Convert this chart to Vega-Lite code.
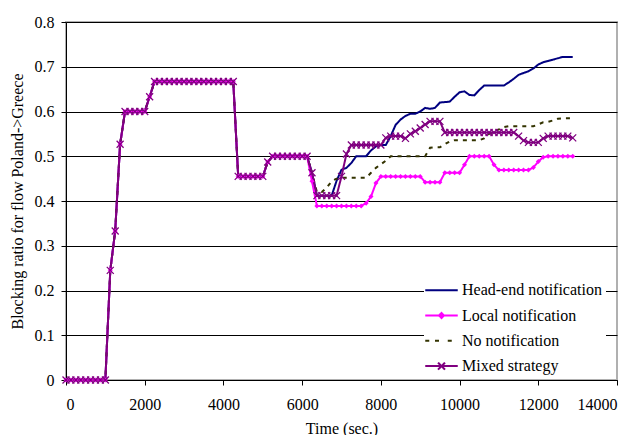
{
  "$schema": "https://vega.github.io/schema/vega-lite/v6.json",
  "width": 551,
  "height": 358,
  "autosize": {"type": "none"},
  "padding": {"left": 66, "top": 22, "right": 22, "bottom": 55},
  "background": "white",
  "config": {
    "view": {"stroke": "#b0b0b0", "strokeWidth": 2},
    "axis": {
      "labelFont": "Liberation Serif",
      "labelFontSize": 16,
      "labelColor": "black",
      "titleFont": "Liberation Serif",
      "titleFontSize": 16,
      "titleFontWeight": "normal",
      "titleColor": "black",
      "domainColor": "black",
      "domainWidth": 1,
      "tickColor": "black",
      "tickSize": 5,
      "gridColor": "black",
      "gridWidth": 1
    },
    "legend": {
      "labelFont": "Liberation Serif",
      "labelFontSize": 16,
      "labelColor": "black"
    }
  },
  "data": {
    "values": [
      {"t": 0, "head": 0, "local": 0, "none": 0, "mixed": 0},
      {"t": 125, "head": 0, "local": 0, "none": 0, "mixed": 0},
      {"t": 250, "head": 0, "local": 0, "none": 0, "mixed": 0},
      {"t": 375, "head": 0, "local": 0, "none": 0, "mixed": 0},
      {"t": 500, "head": 0, "local": 0, "none": 0, "mixed": 0},
      {"t": 625, "head": 0, "local": 0, "none": 0, "mixed": 0},
      {"t": 750, "head": 0, "local": 0, "none": 0, "mixed": 0},
      {"t": 875, "head": 0, "local": 0, "none": 0, "mixed": 0},
      {"t": 1000, "head": 0, "local": 0, "none": 0, "mixed": 0},
      {"t": 1125, "head": 0.245, "local": 0.245, "none": 0.245, "mixed": 0.245},
      {"t": 1250, "head": 0.333, "local": 0.333, "none": 0.333, "mixed": 0.333},
      {"t": 1375, "head": 0.527, "local": 0.527, "none": 0.527, "mixed": 0.527},
      {"t": 1500, "head": 0.6, "local": 0.6, "none": 0.6, "mixed": 0.6},
      {"t": 1625, "head": 0.6, "local": 0.6, "none": 0.6, "mixed": 0.6},
      {"t": 1750, "head": 0.6, "local": 0.6, "none": 0.6, "mixed": 0.6},
      {"t": 1875, "head": 0.6, "local": 0.6, "none": 0.6, "mixed": 0.6},
      {"t": 2000, "head": 0.6, "local": 0.6, "none": 0.6, "mixed": 0.6},
      {"t": 2125, "head": 0.633, "local": 0.633, "none": 0.633, "mixed": 0.633},
      {"t": 2250, "head": 0.667, "local": 0.667, "none": 0.667, "mixed": 0.667},
      {"t": 2375, "head": 0.667, "local": 0.667, "none": 0.667, "mixed": 0.667},
      {"t": 2500, "head": 0.667, "local": 0.667, "none": 0.667, "mixed": 0.667},
      {"t": 2625, "head": 0.667, "local": 0.667, "none": 0.667, "mixed": 0.667},
      {"t": 2750, "head": 0.667, "local": 0.667, "none": 0.667, "mixed": 0.667},
      {"t": 2875, "head": 0.667, "local": 0.667, "none": 0.667, "mixed": 0.667},
      {"t": 3000, "head": 0.667, "local": 0.667, "none": 0.667, "mixed": 0.667},
      {"t": 3125, "head": 0.667, "local": 0.667, "none": 0.667, "mixed": 0.667},
      {"t": 3250, "head": 0.667, "local": 0.667, "none": 0.667, "mixed": 0.667},
      {"t": 3375, "head": 0.667, "local": 0.667, "none": 0.667, "mixed": 0.667},
      {"t": 3500, "head": 0.667, "local": 0.667, "none": 0.667, "mixed": 0.667},
      {"t": 3625, "head": 0.667, "local": 0.667, "none": 0.667, "mixed": 0.667},
      {"t": 3750, "head": 0.667, "local": 0.667, "none": 0.667, "mixed": 0.667},
      {"t": 3875, "head": 0.667, "local": 0.667, "none": 0.667, "mixed": 0.667},
      {"t": 4000, "head": 0.667, "local": 0.667, "none": 0.667, "mixed": 0.667},
      {"t": 4125, "head": 0.667, "local": 0.667, "none": 0.667, "mixed": 0.667},
      {"t": 4250, "head": 0.667, "local": 0.667, "none": 0.667, "mixed": 0.667},
      {"t": 4375, "head": 0.455, "local": 0.455, "none": 0.455, "mixed": 0.455},
      {"t": 4500, "head": 0.455, "local": 0.455, "none": 0.455, "mixed": 0.455},
      {"t": 4625, "head": 0.455, "local": 0.455, "none": 0.455, "mixed": 0.455},
      {"t": 4750, "head": 0.455, "local": 0.455, "none": 0.455, "mixed": 0.455},
      {"t": 4875, "head": 0.455, "local": 0.455, "none": 0.455, "mixed": 0.455},
      {"t": 5000, "head": 0.455, "local": 0.455, "none": 0.455, "mixed": 0.455},
      {"t": 5125, "head": 0.487, "local": 0.487, "none": 0.487, "mixed": 0.487},
      {"t": 5250, "head": 0.5, "local": 0.5, "none": 0.5, "mixed": 0.5},
      {"t": 5375, "head": 0.5, "local": 0.5, "none": 0.5, "mixed": 0.5},
      {"t": 5500, "head": 0.5, "local": 0.5, "none": 0.5, "mixed": 0.5},
      {"t": 5625, "head": 0.5, "local": 0.5, "none": 0.5, "mixed": 0.5},
      {"t": 5750, "head": 0.5, "local": 0.5, "none": 0.5, "mixed": 0.5},
      {"t": 5875, "head": 0.5, "local": 0.5, "none": 0.5, "mixed": 0.5},
      {"t": 6000, "head": 0.5, "local": 0.5, "none": 0.5, "mixed": 0.5},
      {"t": 6125, "head": 0.5, "local": 0.5, "none": 0.5, "mixed": 0.5},
      {"t": 6250, "head": 0.463, "local": 0.444, "none": 0.463, "mixed": 0.463},
      {"t": 6375, "head": 0.412, "local": 0.389, "none": 0.42, "mixed": 0.412},
      {"t": 6500, "head": 0.412, "local": 0.389, "none": 0.42, "mixed": 0.412},
      {"t": 6625, "head": 0.412, "local": 0.389, "none": 0.43, "mixed": 0.412},
      {"t": 6750, "head": 0.412, "local": 0.389, "none": 0.444, "mixed": 0.412},
      {"t": 6875, "head": 0.445, "local": 0.389, "none": 0.45, "mixed": 0.412},
      {"t": 7000, "head": 0.47, "local": 0.389, "none": 0.452, "mixed": 0.455},
      {"t": 7125, "head": 0.474, "local": 0.389, "none": 0.452, "mixed": 0.505},
      {"t": 7250, "head": 0.485, "local": 0.389, "none": 0.452, "mixed": 0.525},
      {"t": 7375, "head": 0.5, "local": 0.389, "none": 0.452, "mixed": 0.525},
      {"t": 7500, "head": 0.5, "local": 0.389, "none": 0.452, "mixed": 0.525},
      {"t": 7625, "head": 0.5, "local": 0.395, "none": 0.452, "mixed": 0.525},
      {"t": 7750, "head": 0.513, "local": 0.41, "none": 0.463, "mixed": 0.525},
      {"t": 7875, "head": 0.522, "local": 0.44, "none": 0.474, "mixed": 0.525},
      {"t": 8000, "head": 0.525, "local": 0.455, "none": 0.482, "mixed": 0.525},
      {"t": 8125, "head": 0.525, "local": 0.455, "none": 0.49, "mixed": 0.541},
      {"t": 8250, "head": 0.545, "local": 0.455, "none": 0.5, "mixed": 0.545},
      {"t": 8375, "head": 0.57, "local": 0.455, "none": 0.5, "mixed": 0.545},
      {"t": 8500, "head": 0.582, "local": 0.455, "none": 0.5, "mixed": 0.545},
      {"t": 8625, "head": 0.59, "local": 0.455, "none": 0.5, "mixed": 0.54},
      {"t": 8750, "head": 0.595, "local": 0.455, "none": 0.5, "mixed": 0.55},
      {"t": 8875, "head": 0.595, "local": 0.455, "none": 0.5, "mixed": 0.556},
      {"t": 9000, "head": 0.6, "local": 0.455, "none": 0.5, "mixed": 0.563},
      {"t": 9125, "head": 0.608, "local": 0.442, "none": 0.5, "mixed": 0.571},
      {"t": 9250, "head": 0.606, "local": 0.442, "none": 0.519, "mixed": 0.578},
      {"t": 9375, "head": 0.608, "local": 0.442, "none": 0.52, "mixed": 0.578},
      {"t": 9500, "head": 0.62, "local": 0.442, "none": 0.52, "mixed": 0.578},
      {"t": 9625, "head": 0.621, "local": 0.463, "none": 0.527, "mixed": 0.553},
      {"t": 9750, "head": 0.622, "local": 0.463, "none": 0.533, "mixed": 0.553},
      {"t": 9875, "head": 0.633, "local": 0.463, "none": 0.536, "mixed": 0.553},
      {"t": 10000, "head": 0.643, "local": 0.463, "none": 0.536, "mixed": 0.553},
      {"t": 10125, "head": 0.645, "local": 0.481, "none": 0.536, "mixed": 0.553},
      {"t": 10250, "head": 0.637, "local": 0.5, "none": 0.536, "mixed": 0.553},
      {"t": 10375, "head": 0.636, "local": 0.5, "none": 0.536, "mixed": 0.553},
      {"t": 10500, "head": 0.648, "local": 0.5, "none": 0.536, "mixed": 0.553},
      {"t": 10625, "head": 0.658, "local": 0.5, "none": 0.54, "mixed": 0.553},
      {"t": 10750, "head": 0.658, "local": 0.5, "none": 0.55, "mixed": 0.553},
      {"t": 10875, "head": 0.658, "local": 0.481, "none": 0.555, "mixed": 0.553},
      {"t": 11000, "head": 0.658, "local": 0.469, "none": 0.56, "mixed": 0.553},
      {"t": 11125, "head": 0.658, "local": 0.469, "none": 0.565, "mixed": 0.553},
      {"t": 11250, "head": 0.665, "local": 0.469, "none": 0.567, "mixed": 0.553},
      {"t": 11375, "head": 0.673, "local": 0.469, "none": 0.567, "mixed": 0.553},
      {"t": 11500, "head": 0.682, "local": 0.469, "none": 0.567, "mixed": 0.545},
      {"t": 11625, "head": 0.686, "local": 0.469, "none": 0.567, "mixed": 0.535},
      {"t": 11750, "head": 0.69, "local": 0.469, "none": 0.567, "mixed": 0.531},
      {"t": 11875, "head": 0.696, "local": 0.475, "none": 0.567, "mixed": 0.531},
      {"t": 12000, "head": 0.705, "local": 0.488, "none": 0.571, "mixed": 0.531},
      {"t": 12125, "head": 0.71, "local": 0.498, "none": 0.576, "mixed": 0.54},
      {"t": 12250, "head": 0.713, "local": 0.5, "none": 0.577, "mixed": 0.545},
      {"t": 12375, "head": 0.716, "local": 0.5, "none": 0.58, "mixed": 0.545},
      {"t": 12500, "head": 0.719, "local": 0.5, "none": 0.584, "mixed": 0.545},
      {"t": 12625, "head": 0.722, "local": 0.5, "none": 0.585, "mixed": 0.545},
      {"t": 12750, "head": 0.722, "local": 0.5, "none": 0.585, "mixed": 0.545},
      {"t": 12875, "head": 0.722, "local": 0.5, "none": 0.585, "mixed": 0.541}
    ]
  },
  "transform": [
    {"fold": ["head", "local", "none", "mixed"], "as": ["strategy", "ratio"]}
  ],
  "encoding": {
    "x": {
      "field": "t",
      "type": "quantitative",
      "scale": {"domain": [0, 14000], "nice": false},
      "axis": {
        "title": "Time (sec.)",
        "grid": false,
        "values": [0, 2000, 4000, 6000, 8000, 10000, 12000, 14000],
        "format": "d",
        "labelPadding": 11,
        "titlePadding": 8
      }
    },
    "y": {
      "field": "ratio",
      "type": "quantitative",
      "scale": {"domain": [0, 0.8], "nice": false},
      "axis": {
        "title": "Blocking ratio for flow Poland->Greece",
        "grid": true,
        "values": [0, 0.1, 0.2, 0.3, 0.4, 0.5, 0.6, 0.7, 0.8],
        "format": "~g",
        "labelPadding": 7,
        "titlePadding": 9
      }
    }
  },
  "layer": [
    {
      "transform": [{"filter": "false"}],
      "mark": {"type": "point", "filled": false, "strokeWidth": 2, "opacity": 1},
      "encoding": {
        "color": {
          "field": "strategy",
          "type": "nominal",
          "scale": {"domain": ["head", "local", "none", "mixed"], "range": ["#000080", "#ff00ff", "#333300", "#800080"]},
          "legend": {
            "title": null,
            "orient": "none",
            "legendX": 358,
            "legendY": 250.7,
            "padding": 4,
            "fillColor": "white",
            "symbolSize": 625,
            "symbolStrokeWidth": 2,
            "symbolOpacity": 1,
            "labelOffset": 7,
            "rowPadding": 3.3,
            "labelExpr": "datum.value == 'head' ? 'Head-end notification' : datum.value == 'local' ? 'Local notification' : datum.value == 'none' ? 'No notification' : 'Mixed strategy'"
          }
        },
        "shape": {
          "field": "strategy",
          "type": "nominal",
          "scale": {
            "domain": ["head", "local", "none", "mixed"],
            "range": [
              "M-1.3,0L1.3,0",
              "M-1.3,0L1.3,0M0,-0.2L0.2,0L0,0.2L-0.2,0Z",
              "M-1.3,0L-0.98,0M-0.52,0L-0.17,0M0.5,0L0.82,0",
              "M-1.3,0L1.3,0M-0.28,-0.28L0.28,0.28M-0.28,0.28L0.28,-0.28"
            ]
          },
          "legend": {
            "title": null,
            "orient": "none",
            "legendX": 358,
            "legendY": 250.7,
            "padding": 4,
            "fillColor": "white",
            "symbolSize": 625,
            "symbolStrokeWidth": 2,
            "symbolOpacity": 1,
            "labelOffset": 7,
            "rowPadding": 3.3,
            "labelExpr": "datum.value == 'head' ? 'Head-end notification' : datum.value == 'local' ? 'Local notification' : datum.value == 'none' ? 'No notification' : 'Mixed strategy'"
          }
        }
      }
    },
    {
      "mark": {"type": "line", "strokeWidth": 2, "interpolate": "linear"},
      "encoding": {
        "stroke": {
          "field": "strategy",
          "type": "nominal",
          "scale": {"domain": ["head", "local", "none", "mixed"], "range": ["#000080", "#ff00ff", "#333300", "#800080"]},
          "legend": null
        },
        "strokeDash": {
          "field": "strategy",
          "type": "nominal",
          "scale": {"domain": ["head", "local", "none", "mixed"], "range": [[1, 0], [1, 0], [4, 5], [1, 0]]},
          "legend": null
        }
      }
    },
    {
      "transform": [{"filter": "datum.strategy === 'local'"}],
      "mark": {"type": "point", "shape": "diamond", "filled": true, "color": "#ff00ff", "size": 25, "opacity": 1}
    },
    {
      "transform": [{"filter": "datum.strategy === 'mixed'"}],
      "mark": {"type": "point", "shape": "M-1,-1L1,1M-1,1L1,-1", "filled": false, "color": "#800080", "size": 49, "strokeWidth": 1.3, "opacity": 1}
    }
  ]
}
